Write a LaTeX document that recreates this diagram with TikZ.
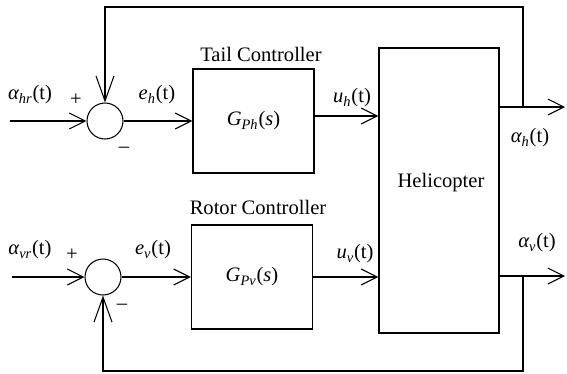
\documentclass[tikz,border=0pt]{standalone}
\usepackage{fontspec}
\setmainfont{Liberation Serif}
\usetikzlibrary{arrows.meta,positioning,calc}
\tikzset{
  sigln/.style={-{Straight Barb[length=3.2mm,width=3.2mm]}, line width=0.6pt},
  fbln/.style={-{Straight Barb[length=5mm,width=3.6mm]}, line width=0.6pt},
  blockbox/.style={draw, line width=0.8pt, minimum width=2.42cm, minimum height=2.08cm, inner sep=0pt},
  sumnode/.style={draw, circle, line width=0.6pt, minimum size=0.72cm, inner sep=0pt},
  lbl/.style={inner sep=0pt, font=\fontsize{11.7}{14}\selectfont},
}
\newcommand{\sigsub}[2]{{\itshape #1}\textsubscript{\itshape #2}(t)}
\newcommand{\tfsub}[1]{{\itshape G}\textsubscript{\itshape #1}({\itshape s})}

\begin{document}
\begin{tikzpicture}[x=0.02cm, y=-0.02cm]
    \useasboundingbox (0,0) rectangle (567,373);
    % --- blocks ---
    \node[sumnode] (sumh) at (105,121) {};
    \node[sumnode] (sumv) at (103,277) {};
    \node[blockbox, lbl] (ctrlh) at (253.5,121) {\tfsub{Ph}};
    \node[blockbox, lbl] (ctrlv) at (252,277) {\tfsub{Pv}};
    \node[draw, line width=0.8pt, minimum width=2.4cm, minimum height=5.7cm] (heli) at (439,190.5) {};
    \node[lbl] (helilbl) at (441,183) {Helicopter};
    \node[lbl] (ctrlhlbl) at (261,54) {Tail Controller};
    \node[lbl] (ctrlvlbl) at (258,207) {Rotor Controller};
    % --- free ends ---
    \coordinate (inh) at (10,121);
    \coordinate (inv) at (12,277);
    \coordinate (outh) at (565,107);
    \coordinate (outv) at (565,276);
    \coordinate (taph) at (523,107);
    \coordinate (tapv) at (523,276);
    \coordinate (toph) at (523,7);
    \coordinate (botv) at (523,371);
    % --- signals ---
    \draw[sigln] (inh) -- (sumh);
    \draw[sigln] (sumh) -- (ctrlh);
    \draw[sigln] ([yshift=1mm]ctrlh.east) -- ([yshift=1mm]ctrlh.east -| heli.west);
    \draw[sigln] (heli.east |- outh) -- (outh);
    \draw[sigln] (inv) -- (sumv);
    \draw[sigln] (sumv) -- (ctrlv);
    \draw[sigln] (ctrlv) -- (ctrlv -| heli.west);
    \draw[sigln] (heli.east |- outv) -- (outv);
    % feedback loops
    \draw[fbln] (taph) -- (toph) -| (sumh.north);
    \draw[fbln] (tapv) -- (botv) -| (sumv.south);
    % --- labels ---
    \node[lbl] (refh) at (30,95) {\sigsub{α}{hr}};
    \node[lbl] (plush) at (76,100) {+};
    \node[lbl] (minush) at (124,150) {–};
    \node[lbl] (errh) at (157,95) {\sigsub{e}{h}};
    \node[lbl] (uh) at (352,98) {\sigsub{u}{h}};
    \node[lbl] (alh) at (530,138) {\sigsub{α}{h}};
    \node[lbl] (refv) at (30,250) {\sigsub{α}{vr}};
    \node[lbl] (plusv) at (72,255) {+};
    \node[lbl] (minusv) at (122,307) {–};
    \node[lbl] (errv) at (153,250) {\sigsub{e}{v}};
    \node[lbl] (uv) at (355,254) {\sigsub{u}{v}};
    \node[lbl] (alv) at (537,243) {\sigsub{α}{v}};
\end{tikzpicture}
\end{document}
